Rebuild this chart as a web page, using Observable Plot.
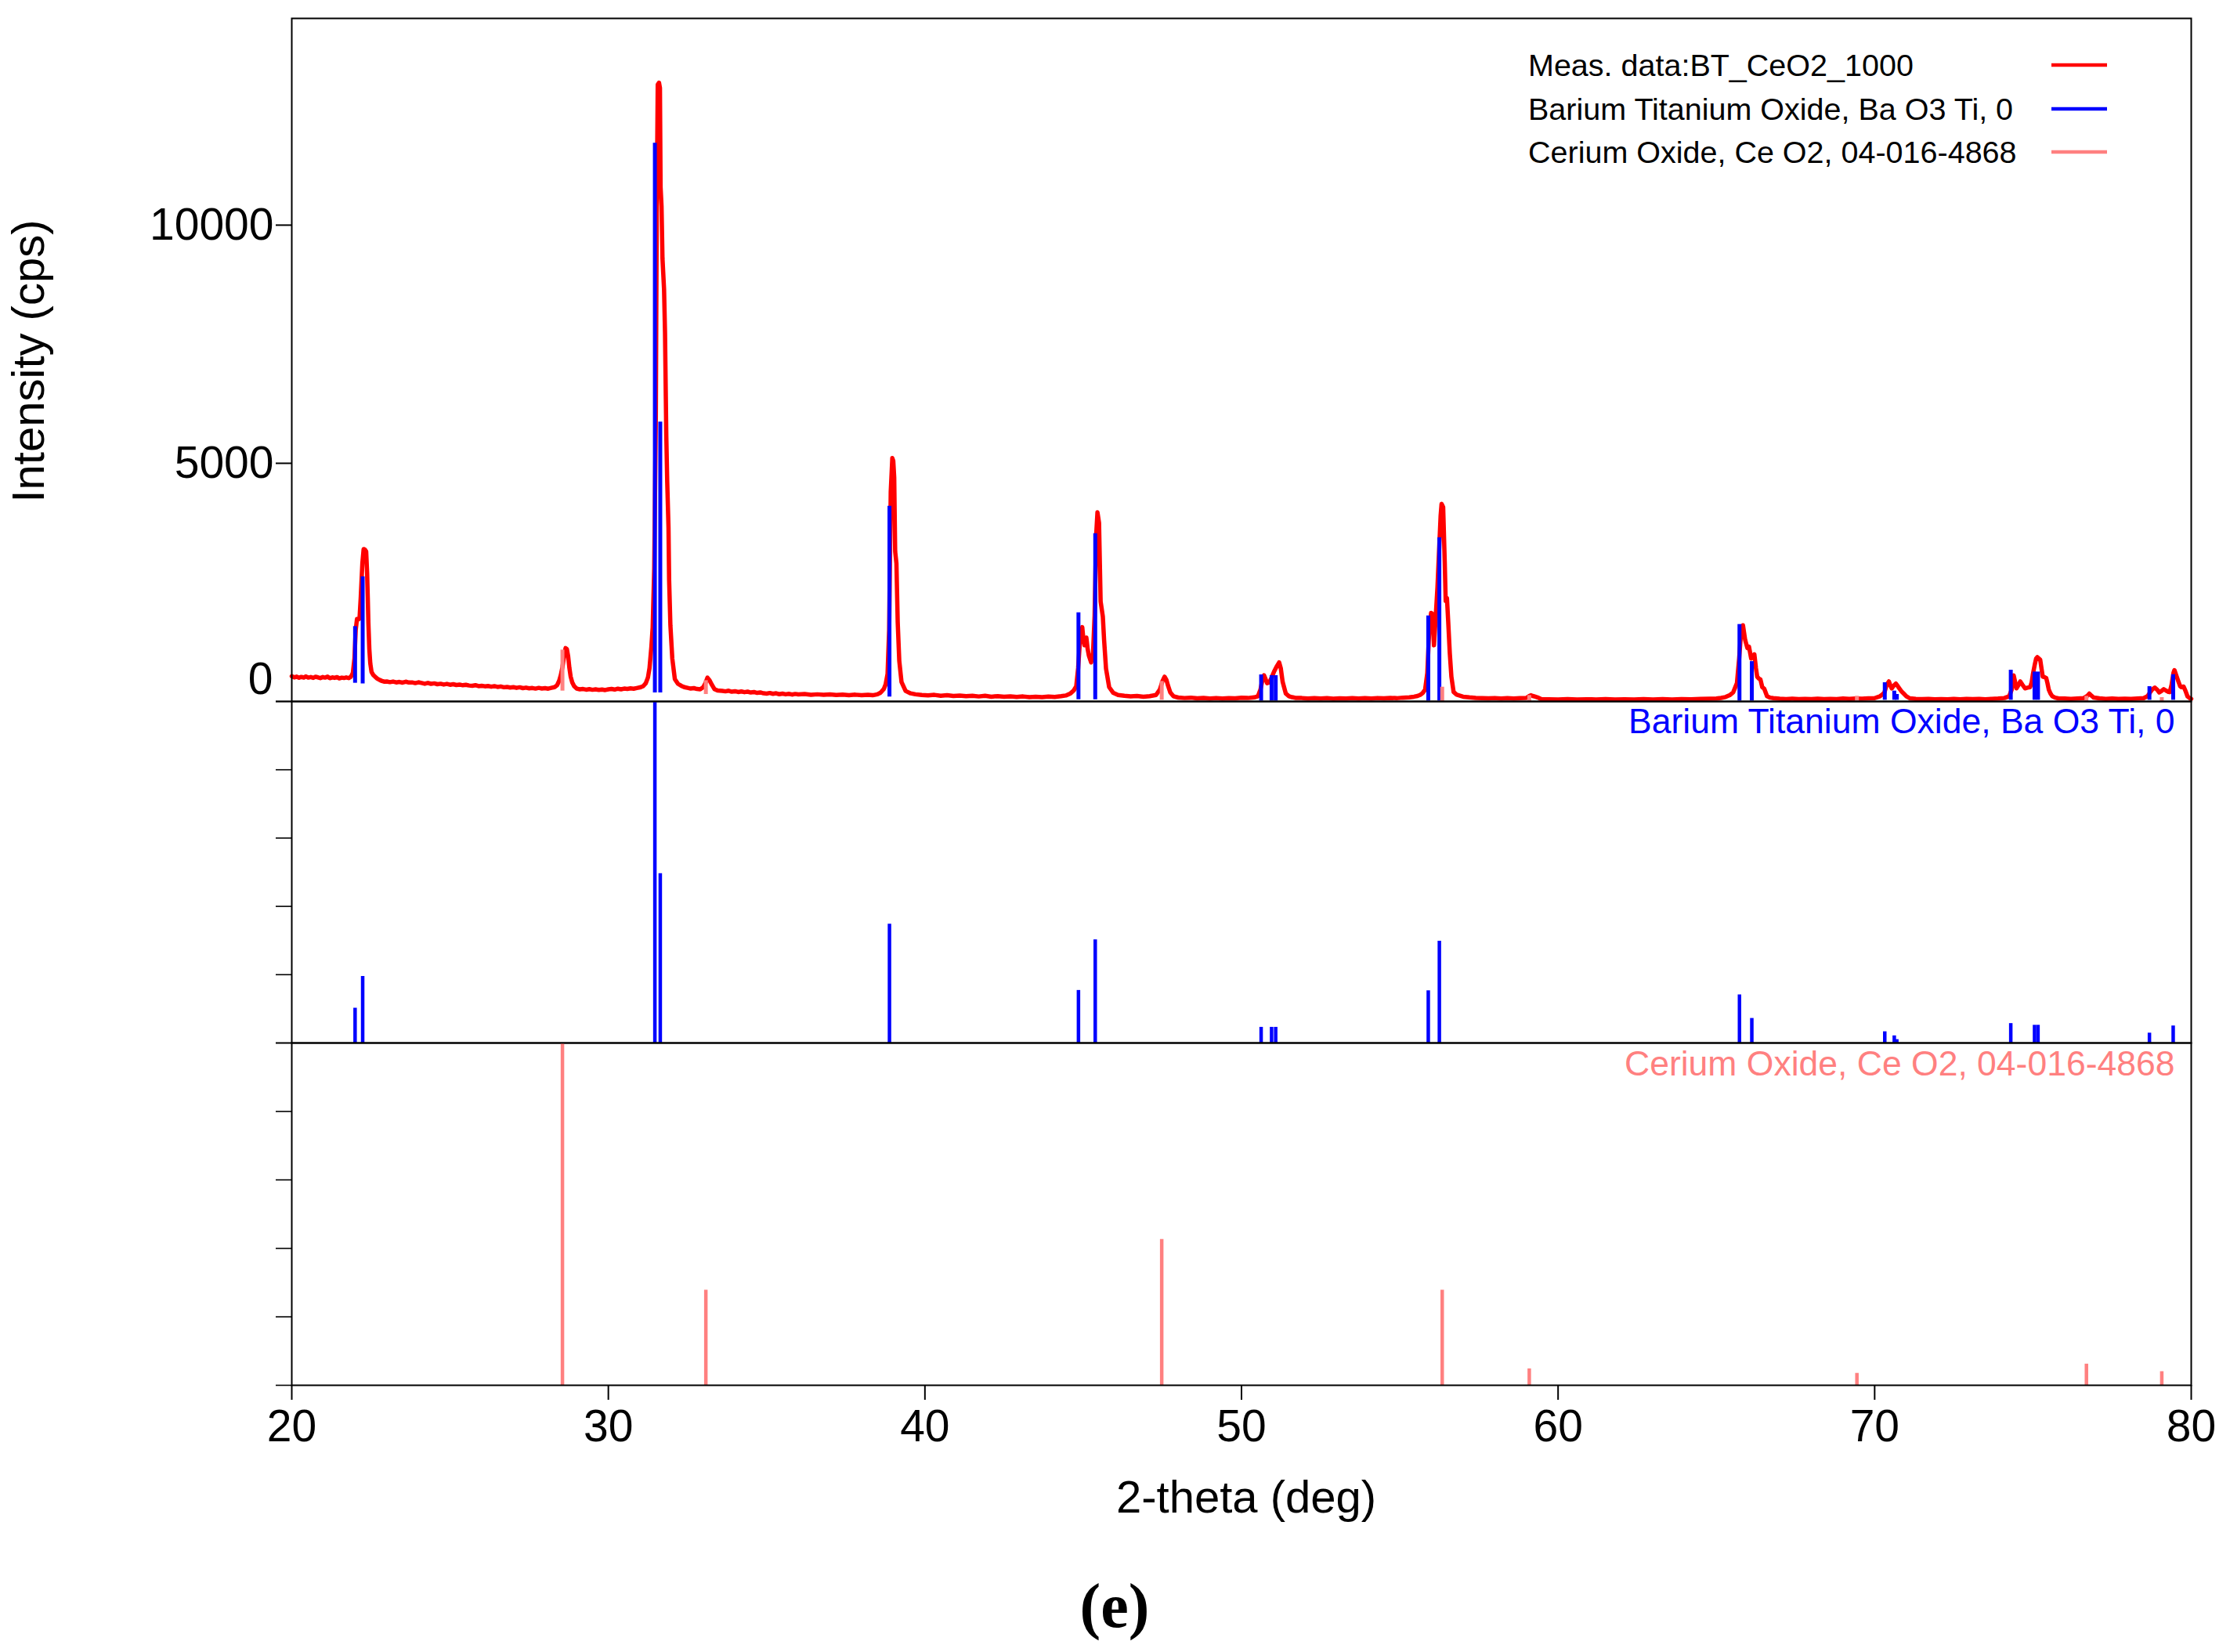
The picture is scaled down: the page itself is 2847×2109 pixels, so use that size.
<!DOCTYPE html>
<html>
<head>
<meta charset="utf-8">
<script src="https://cdn.jsdelivr.net/npm/d3@7"></script>
<script src="https://cdn.jsdelivr.net/npm/@observablehq/plot@0.6"></script>
<style>
  html, body { margin: 0; padding: 0; background: #fff; overflow: hidden; }
  #fig { position: relative; width: 2847px; height: 2109px; background: #fff; }
  #fig > svg, #fig > div { position: absolute; left: 0; }
</style>
</head>
<body>
<div id="fig"></div>
<script>
// ---------------- DATA ----------------
// Measured pattern: [2-theta (deg), intensity (cps)]
const measured = [
  [20.00,530],[20.08,505],[20.15,520],[20.23,498],[20.30,515],[20.38,502],[20.45,525],[20.52,500],[20.60,512],[20.68,495],
  [20.75,518],[20.83,505],[20.90,490],[20.98,512],[21.05,500],[21.13,520],[21.20,488],[21.28,505],[21.35,495],[21.43,510],
  [21.50,485],[21.58,500],[21.65,492],[21.72,505],[21.80,490],[21.87,520],[21.93,600],[21.98,900],[22.02,1500],[22.06,1730],
  [22.10,1720],[22.14,1740],[22.18,2200],[22.23,2900],[22.27,3200],[22.31,3190],[22.35,3150],[22.38,2700],[22.40,2200],[22.42,1650],
  [22.45,1100],[22.48,800],[22.52,620],[22.57,560],[22.63,520],[22.70,480],[22.78,450],[22.85,430],[22.93,415],[23.00,420],
  [23.10,405],[23.20,418],[23.30,400],[23.40,410],[23.50,395],[23.60,415],[23.70,398],[23.80,400],[23.90,385],[24.00,402],
  [24.10,388],[24.20,372],[24.30,390],[24.40,370],[24.50,380],[24.60,362],[24.70,372],[24.80,355],[24.90,368],[25.00,350],
  [25.10,362],[25.20,345],[25.30,355],[25.40,340],[25.50,350],[25.60,335],[25.70,330],[25.80,342],[25.90,322],[26.00,330],
  [26.10,318],[26.20,325],[26.30,310],[26.40,322],[26.50,305],[26.60,315],[26.70,298],[26.80,305],[26.90,292],[27.00,300],
  [27.10,285],[27.20,298],[27.30,280],[27.40,290],[27.50,275],[27.60,282],[27.70,270],[27.80,285],[27.90,272],[28.00,280],
  [28.10,268],[28.20,285],[28.30,300],[28.38,340],[28.45,440],[28.50,560],[28.55,720],[28.60,950],[28.65,1120],[28.69,1100],
  [28.73,950],[28.77,700],[28.81,520],[28.86,400],[28.92,320],[29.00,270],[29.10,255],[29.20,262],[29.30,248],[29.40,258],
  [29.50,245],[29.60,255],[29.70,242],[29.80,250],[29.90,240],[30.00,255],[30.10,262],[30.20,250],[30.30,268],[30.40,255],
  [30.50,270],[30.60,262],[30.70,275],[30.80,268],[30.90,282],[31.00,295],[31.10,320],[31.18,380],[31.25,500],[31.30,700],
  [31.36,1150],[31.40,1550],[31.45,2800],[31.50,6000],[31.53,10500],[31.56,12950],[31.60,12990],[31.63,12880],[31.65,10800],[31.68,10400],
  [31.71,9300],[31.76,8650],[31.79,7750],[31.83,5600],[31.86,4600],[31.90,3650],[31.92,2550],[31.96,1600],[32.02,900],[32.10,470],
  [32.20,370],[32.30,330],[32.40,300],[32.50,285],[32.60,270],[32.70,280],[32.80,262],[32.90,255],[33.00,300],[33.07,390],
  [33.13,500],[33.20,440],[33.27,350],[33.35,260],[33.45,230],[33.60,222],[33.70,212],[33.80,225],[33.90,205],[34.00,215],
  [34.10,198],[34.20,210],[34.30,195],[34.40,205],[34.50,188],[34.60,198],[34.70,180],[34.80,190],[34.90,172],[35.00,165],
  [35.10,178],[35.20,160],[35.30,172],[35.40,152],[35.50,165],[35.60,150],[35.70,160],[35.80,145],[35.90,158],[36.00,148],
  [36.20,155],[36.40,140],[36.60,150],[36.80,138],[37.00,148],[37.20,135],[37.40,145],[37.60,132],[37.80,142],[38.00,130],
  [38.20,138],[38.35,130],[38.50,150],[38.60,185],[38.70,260],[38.76,360],[38.82,580],[38.87,1500],[38.92,4400],[38.97,5110],
  [39.00,5050],[39.03,4700],[39.06,3150],[39.10,2900],[39.14,1670],[39.19,850],[39.26,410],[39.39,220],[39.55,170],[39.70,150],
  [39.90,135],[40.10,128],[40.30,138],[40.50,120],[40.70,130],[40.90,115],[41.10,125],[41.30,110],[41.50,120],[41.70,105],
  [41.90,118],[42.10,100],[42.30,112],[42.50,98],[42.70,108],[42.90,95],[43.10,105],[43.30,90],[43.50,100],[43.70,92],
  [43.90,102],[44.10,95],[44.30,110],[44.45,125],[44.60,170],[44.70,230],[44.78,320],[44.84,700],[44.90,1300],[44.97,1560],
  [45.00,1350],[45.04,1180],[45.10,1340],[45.14,1100],[45.18,960],[45.25,820],[45.31,1010],[45.36,1800],[45.41,3500],[45.45,3970],
  [45.50,3750],[45.55,2100],[45.62,1780],[45.66,1290],[45.72,690],[45.82,300],[45.95,180],[46.10,137],[46.30,120],[46.50,108],
  [46.70,115],[46.90,100],[47.10,112],[47.30,135],[47.42,250],[47.50,420],[47.57,520],[47.63,450],[47.68,330],[47.75,190],
  [47.85,110],[48.00,82],[48.20,72],[48.40,80],[48.60,65],[48.80,75],[49.00,62],[49.20,72],[49.40,60],[49.60,70],
  [49.80,65],[50.00,78],[50.20,72],[50.40,85],[50.52,110],[50.60,250],[50.66,450],[50.71,550],[50.76,470],[50.81,384],
  [50.88,400],[50.95,500],[51.03,630],[51.10,720],[51.19,820],[51.24,700],[51.30,410],[51.40,165],[51.50,110],[51.60,90],
  [51.70,75],[51.90,72],[52.10,62],[52.30,70],[52.50,60],[52.70,68],[52.90,58],[53.10,66],[53.30,60],[53.50,70],
  [53.70,62],[53.90,68],[54.10,60],[54.30,72],[54.50,64],[54.70,75],[54.90,68],[55.10,80],[55.30,88],[55.45,100],
  [55.56,115],[55.65,140],[55.72,175],[55.80,250],[55.87,600],[55.93,1500],[55.99,1860],[56.03,1840],[56.08,1180],[56.13,1720],
  [56.19,2400],[56.25,3300],[56.29,3900],[56.32,4150],[56.37,4080],[56.42,2930],[56.45,2110],[56.49,2170],[56.53,1670],[56.58,1010],
  [56.63,520],[56.70,200],[56.80,140],[56.90,120],[57.00,100],[57.20,85],[57.40,75],[57.60,70],[57.80,65],[58.00,72],
  [58.20,62],[58.40,68],[58.60,60],[58.80,70],[59.00,75],[59.08,110],[59.14,130],[59.20,115],[59.28,100],[59.35,85],
  [59.47,50],[59.70,45],[60.00,42],[60.30,48],[60.60,40],[60.90,46],[61.20,42],[61.50,48],[61.80,40],[62.10,46],
  [62.40,42],[62.70,50],[63.00,42],[63.30,48],[63.60,40],[63.90,48],[64.20,44],[64.50,52],[64.80,58],[65.00,62],
  [65.15,75],[65.29,93],[65.42,130],[65.53,190],[65.65,385],[65.72,900],[65.78,1450],[65.84,1600],[65.91,1290],[65.98,1120],
  [66.03,1150],[66.10,900],[66.15,950],[66.20,990],[66.25,700],[66.29,520],[66.34,480],[66.39,466],[66.45,300],[66.51,270],
  [66.60,110],[66.70,80],[66.80,70],[67.00,58],[67.20,50],[67.40,58],[67.60,48],[67.80,55],[68.00,50],[68.20,58],
  [68.40,48],[68.60,55],[68.80,50],[69.00,60],[69.20,52],[69.40,62],[69.60,58],[69.80,65],[70.00,70],[70.17,110],
  [70.25,150],[70.31,190],[70.38,350],[70.45,420],[70.50,330],[70.54,275],[70.60,330],[70.67,375],[70.72,330],[70.78,275],
  [70.85,210],[70.92,165],[71.00,110],[71.11,66],[71.30,55],[71.50,48],[71.70,55],[71.90,45],[72.10,50],[72.30,44],
  [72.50,52],[72.70,46],[72.90,52],[73.10,48],[73.30,55],[73.50,47],[73.70,55],[73.90,60],[74.10,72],[74.25,110],
  [74.33,250],[74.39,548],[74.44,400],[74.48,275],[74.54,340],[74.60,420],[74.67,350],[74.75,275],[74.83,290],[74.91,300],
  [74.96,400],[75.00,575],[75.06,780],[75.10,900],[75.14,930],[75.19,900],[75.23,875],[75.28,650],[75.31,520],[75.37,510],
  [75.42,490],[75.46,380],[75.50,250],[75.56,160],[75.61,110],[75.70,80],[75.80,66],[76.00,60],[76.20,55],[76.40,62],
  [76.60,68],[76.72,120],[76.78,165],[76.85,120],[76.92,82],[77.10,65],[77.30,55],[77.50,60],[77.70,52],[77.90,58],
  [78.10,52],[78.30,60],[78.50,70],[78.62,110],[78.70,190],[78.78,260],[78.85,290],[78.92,250],[78.99,190],[79.06,220],
  [79.13,258],[79.20,230],[79.28,200],[79.32,195],[79.38,350],[79.44,600],[79.47,658],[79.52,560],[79.60,410],[79.65,320],
  [79.69,300],[79.76,312],[79.82,220],[79.88,110],[79.95,70],[80.00,55]
];

// Barium Titanium Oxide reference lines
const btTheta   = [22.00, 22.24, 31.47, 31.64, 38.88, 44.85, 45.38, 50.62, 50.95, 51.08, 55.90, 56.25, 65.73, 66.12, 70.32, 70.62, 70.70, 74.30, 75.05, 75.16, 78.68, 79.43];
const btRel     = [10.2, 19.5, 100, 49.6, 34.8, 15.4, 30.2, 4.6, 4.6, 4.6, 15.3, 29.8, 14.1, 7.2, 3.3, 2.1, 1.0, 5.7, 5.2, 5.2, 2.9, 5.0];
const btMeasLow = [384, 370, 181, 181, 93, 38, 38, 11, 11, 11, 11, 11, 11, 11, 27, 27, 27, 27, 27, 27, 27, 27];
const btMeasTop = [1573, 2620, 11720, 5866, 4099, 1863, 3524, 559, 543, 543, 1797, 3436, 1617, 838, 395, 219, 148, 658, 619, 619, 312, 564];

// Cerium Oxide reference lines
const ceTheta   = [28.55, 33.08, 47.48, 56.34, 59.09, 69.44, 76.69, 79.07];
const ceRel     = [100, 27.8, 42.6, 27.8, 4.8, 3.5, 6.2, 4.0];
const ceMeasLow = [219, 148, 27, 0, 0, 0, 0, 0];
const ceMeasTop = [1080, 438, 422, 301, 126, 110, 110, 82];

// Axis ticks and texts
const xTicks = [20, 30, 40, 50, 60, 70, 80];
const yTicksTop = [5000, 10000];
const yTicksRel = [0, 20, 40, 60, 80, 100];
const legendLabels = ["Meas. data:BT_CeO2_1000", "Barium Titanium Oxide, Ba O3 Ti, 0", "Cerium Oxide, Ce O2, 04-016-4868"];
const panelLabels = ["Barium Titanium Oxide, Ba O3 Ti, 0", "Cerium Oxide, Ce O2, 04-016-4868"];

// ---------------- BUILD ----------------
const RED = "#ff0000", BLUE = "#0000ff", PINK = "#ff8080";
const FONT = '"Liberation Sans", Arial, Helvetica, sans-serif';
const W = 2847, ML = 372, MR = 50;

const meas = measured.map(([t, c]) => ({t, c}));
const bt = btTheta.map((t, i) => ({t, rel: btRel[i], lo: btMeasLow[i], hi: btMeasTop[i]}));
const ce = ceTheta.map((t, i) => ({t, rel: ceRel[i], lo: ceMeasLow[i], hi: ceMeasTop[i]}));

const fig = document.getElementById("fig");
const baseStyle = {fontFamily: FONT, background: "transparent", color: "#000", overflow: "visible"};

// Panel 1: measured data
const p1 = Plot.plot({
  width: W, height: 900,
  marginLeft: ML, marginRight: MR, marginTop: 23, marginBottom: 5,
  style: baseStyle,
  x: {domain: [20, 80], axis: null},
  y: {domain: [0, 14340], axis: null},
  marks: [
    Plot.line(meas, {x: "t", y: "c", stroke: RED, strokeWidth: 5.5, strokeLinejoin: "round"}),
    Plot.ruleX(bt, {x: "t", y1: "lo", y2: "hi", stroke: BLUE, strokeWidth: 5}),
    Plot.ruleX(ce, {x: "t", y1: "lo", y2: "hi", stroke: PINK, strokeWidth: 5}),
    Plot.frame({stroke: "#000", strokeWidth: 2}),
    Plot.axisY(yTicksTop, {tickSize: 20, tickPadding: 3, fontSize: 57, tickFormat: "d", strokeWidth: 2, label: null}),
    Plot.axisY([0], {tickSize: 20, tickFormat: () => "", strokeWidth: 2, label: null}),
    Plot.text(["0"], {frameAnchor: "bottom-left", lineAnchor: "middle", text: d => d, textAnchor: "end", dx: -24, dy: -28, fontSize: 57, fill: "#000"})
  ]
});
p1.style.top = "0px";
fig.appendChild(p1);

// Panel 2: BaTiO3 stick pattern
const p2 = Plot.plot({
  width: W, height: 446,
  marginLeft: ML, marginRight: MR, marginTop: 5, marginBottom: 5,
  style: baseStyle,
  x: {domain: [20, 80], axis: null},
  y: {domain: [0, 100], axis: null},
  marks: [
    Plot.ruleX(bt, {x: "t", y1: 0, y2: "rel", stroke: BLUE, strokeWidth: 4.5}),
    Plot.frame({stroke: "#000", strokeWidth: 2}),
    Plot.axisY(yTicksRel, {tickSize: 20, tickFormat: () => "", strokeWidth: 1.6, label: null}),
    Plot.text([panelLabels[0]], {frameAnchor: "top-right", text: d => d, lineAnchor: "top", dx: -21, dy: 9, fontSize: 44.5, fill: BLUE})
  ]
});
p2.style.top = "890px";
fig.appendChild(p2);

// Panel 3: CeO2 stick pattern + x axis
const p3 = Plot.plot({
  width: W, height: 534,
  marginLeft: ML, marginRight: MR, marginTop: 5, marginBottom: 92,
  style: baseStyle,
  x: {domain: [20, 80], axis: null},
  y: {domain: [0, 100], axis: null},
  marks: [
    Plot.ruleX(ce, {x: "t", y1: 0, y2: "rel", stroke: PINK, strokeWidth: 4.5}),
    Plot.frame({stroke: "#000", strokeWidth: 2}),
    Plot.axisY(yTicksRel, {tickSize: 20, tickFormat: () => "", strokeWidth: 1.6, label: null}),
    Plot.axisX(xTicks, {tickSize: 19, tickPadding: 12, fontSize: 57, tickFormat: "d", strokeWidth: 2, label: null}),
    Plot.text([panelLabels[1]], {frameAnchor: "top-right", text: d => d, lineAnchor: "top", dx: -21, dy: 10, fontSize: 44.5, fill: PINK})
  ]
});
p3.style.top = "1326px";
fig.appendChild(p3);

// Overlay: legend, axis titles, figure tag
const ov = d3.create("svg")
  .attr("width", W).attr("height", 2109)
  .style("position", "absolute").style("top", "0px").style("left", "0px")
  .style("font-family", FONT);

const legendColors = [RED, BLUE, PINK];
const legendY = [83, 139, 194];
legendLabels.forEach((lab, i) => {
  ov.append("text").attr("x", 1951).attr("y", legendY[i]).attr("dy", "0.36em")
    .attr("font-size", 39.5).attr("fill", "#000").text(lab);
  ov.append("line").attr("x1", 2619).attr("x2", 2690).attr("y1", legendY[i]).attr("y2", legendY[i])
    .attr("stroke", legendColors[i]).attr("stroke-width", 4.5);
});

ov.append("text").attr("transform", "translate(56,461) rotate(-90)")
  .attr("text-anchor", "middle").attr("font-size", 58).attr("fill", "#000").text("Intensity (cps)");
ov.append("text").attr("x", 1591).attr("y", 1931)
  .attr("text-anchor", "middle").attr("font-size", 58).attr("fill", "#000").text("2-theta (deg)");
ov.append("text").attr("x", 1423).attr("y", 2077)
  .attr("text-anchor", "middle").attr("font-size", 80).attr("font-weight", "bold")
  .attr("font-family", '"Liberation Serif", "Times New Roman", serif').attr("fill", "#000").text("(e)");

fig.appendChild(ov.node());
</script>
</body>
</html>
